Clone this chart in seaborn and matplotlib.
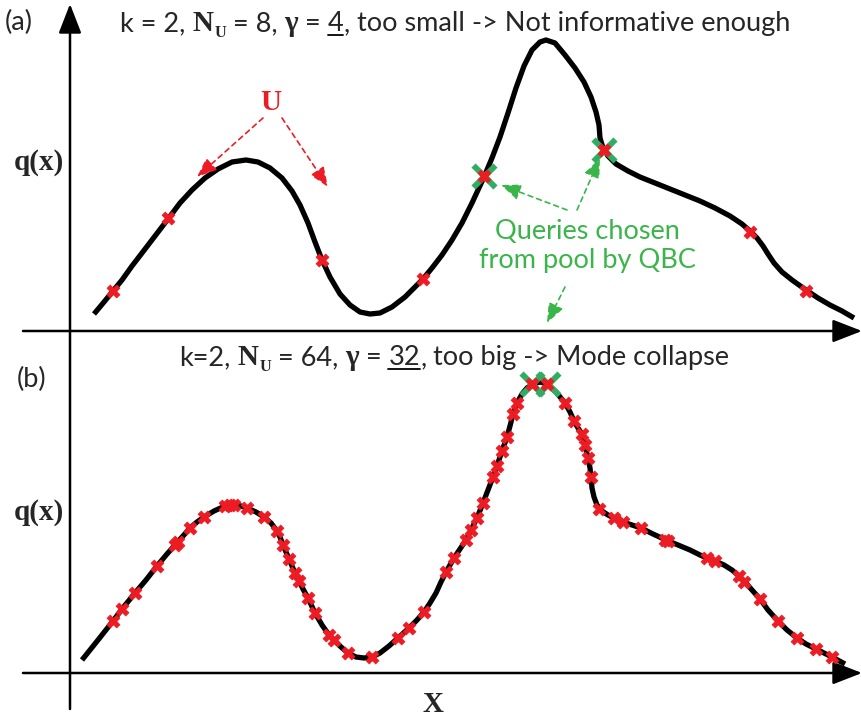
import numpy as np
import pandas as pd
import seaborn as sns
import matplotlib.pyplot as plt
from matplotlib import font_manager

# ---------------- data (pixel-space schematic) -------------
curve_a_x = [94, 104, 113, 122, 132, 142, 155, 168, 180, 192, 205, 218, 232, 246, 258, 270, 282, 292,
             300, 308, 315, 322, 330, 340, 350, 360, 370, 380, 392, 405, 415, 423, 432, 442, 452, 462,
             472, 484, 492, 500, 508, 516, 524, 532, 540, 546, 555, 565, 575, 584, 591, 596, 599, 600,
             603, 608, 616, 628, 640, 655, 670, 685, 700, 715, 730, 742, 750, 757, 763, 768, 774, 782,
             792, 806, 818, 830, 842, 854]
curve_a_y = [314, 302, 291, 280, 266, 253, 236, 219, 203, 190, 178, 169, 162, 160, 162, 168, 178, 191,
             205, 223, 242, 260, 277, 294, 305, 312, 314, 313, 307, 297, 287, 279, 268, 255, 240, 223,
             203, 177, 158, 137, 113, 88, 66, 50, 42, 40, 43, 55, 68, 82, 97, 112, 125, 138,
             148, 156, 164, 171, 177, 183, 189, 195, 201, 208, 216, 224, 231, 238, 246, 254, 263, 272,
             280, 290, 298, 305, 311, 318]
pool_a_x = [113, 168, 322, 423, 484, 604, 750, 806]
pool_a_y = [291, 218, 260, 279, 176, 150, 232, 291]
query_a_x = [484, 604]
query_a_y = [176, 150]

curve_b_x = [82, 98, 113, 122, 135, 146, 157, 167, 175, 183, 190, 197, 204, 214, 225, 234, 241, 247,
             256, 264, 271, 277, 280, 283, 289, 295, 299, 303, 308, 315, 322, 329, 334, 341, 348, 356,
             364, 372, 380, 389, 398, 409, 417, 424, 430, 436, 441, 446, 454, 460, 466, 471, 477, 483,
             488, 493, 497, 502, 507, 510, 513, 517, 522, 527, 533, 540, 547, 556, 565, 570, 574, 578,
             582, 585, 588, 590, 591, 592, 594, 597, 602, 608, 614, 623, 632, 641, 653, 666, 678, 690,
             700, 707, 715, 724, 732, 739, 745, 752, 760, 768, 778, 787, 797, 806, 816, 824, 832, 845]
curve_b_y = [660, 640, 621, 609, 593, 580, 566, 554, 545, 536, 528, 522, 517, 511, 506, 505, 506, 508,
             512, 517, 523, 531, 537, 545, 559, 573, 581, 589, 598, 613, 625, 635, 640, 647, 653, 657,
             658, 657, 653, 646, 638, 628, 620, 612, 603, 593, 582, 572, 558, 549, 540, 530, 518, 503,
             490, 477, 466, 451, 437, 426, 414, 403, 394, 388, 384, 382, 384, 392, 403, 412, 421, 428,
             434, 445, 458, 468, 477, 488, 497, 505, 511, 515, 518, 522, 525, 528, 534, 540, 545, 550,
             555, 558, 561, 565, 570, 576, 582, 590, 599, 610, 621, 630, 638, 644, 649, 653, 657, 664]
pool_b_x = [113, 122, 135, 157, 175, 178, 190, 204, 225, 230, 234, 247, 264, 277, 283, 289, 295, 299,
            308, 315, 329, 334, 348, 372, 398, 409, 424, 446, 454, 466, 471, 477, 483, 493, 497, 502,
            507, 513, 517, 532, 547, 565, 574, 582, 585, 588, 591, 599, 614, 623, 641, 665, 668, 707,
            715, 739, 744, 760, 778, 797, 816, 832]
pool_b_y = [621, 609, 593, 566, 545, 542, 528, 517, 506, 505, 505, 508, 517, 531, 545, 559, 573, 581,
            598, 613, 635, 640, 653, 657, 638, 628, 612, 572, 558, 540, 530, 518, 503, 477, 466, 451,
            437, 414, 403, 384, 384, 403, 421, 434, 445, 458, 477, 509, 518, 522, 528, 540, 541, 558,
            561, 576, 582, 599, 621, 638, 649, 657]
query_b_x = [532, 548]
query_b_y = [384, 384]

title_a = ["k = 2,", "N", "U", "= 8,", "\u03b3", "=", "4", ",", "too small -> Not informative enough"]
title_b = ["k=2,", "N", "U", "= 64,", "\u03b3", "=", "32", ",", "too big -> Mode collapse"]
query_label = "Queries chosen\nfrom pool by QBC"

# ---------------- style ----------------
RED = "#ED1C24"
GREEN = "#39B54A"
GREEN_X = "#2FAE62"

sns.set_theme(style="white")
names = {f.name for f in font_manager.fontManager.ttflist}
SANS = "Liberation Sans Narrow" if "Liberation Sans Narrow" in names else "Lato"
SERIF = "Liberation Serif"
plt.rcParams["font.family"] = [SANS, "DejaVu Sans"]
FS = 19.5

fig = plt.figure(figsize=(8.62, 7.18), dpi=100)
ax = fig.add_axes([0, 0, 1, 1])
ax.set_xlim(0, 862)
ax.set_ylim(718, 0)
ax.axis("off")

# axes arrows
ax_kw = dict(arrowstyle="-|>,head_length=0.9,head_width=0.35", color="black", lw=1.8,
             mutation_scale=20, shrinkA=0, shrinkB=0)
ax.annotate("", xy=(70, 4), xytext=(70, 709), arrowprops=ax_kw)
ax.annotate("", xy=(862, 331), xytext=(23, 331), arrowprops=ax_kw)
ax.annotate("", xy=(862, 673), xytext=(23, 673), arrowprops=ax_kw)

# curves
for cx, cy in [(curve_a_x, curve_a_y), (curve_b_x, curve_b_y)]:
    sns.lineplot(x=cx, y=cy, sort=False, estimator=None, color="black", lw=3.8,
                 ax=ax, zorder=2, solid_capstyle="butt", solid_joinstyle="round")

# queries (green x) and pool samples (red X)
for qx, qy in [(query_a_x, query_a_y), (query_b_x, query_b_y)]:
    sns.scatterplot(x=qx, y=qy, marker="x", s=250, color=GREEN_X, linewidth=4.2, ax=ax, zorder=3)
for px, py in [(pool_a_x, pool_a_y), (pool_b_x, pool_b_y)]:
    sns.scatterplot(x=px, y=py, marker="X", s=85, color=RED, linewidth=0.6, edgecolor=RED,
                    ax=ax, zorder=4)

# dashed annotation arrows
def dashed(x0, y0, x1, y1, color):
    ax.annotate("", xy=(x1, y1), xytext=(x0, y0),
                arrowprops=dict(arrowstyle="-|>,head_length=0.8,head_width=0.32", color=color,
                                lw=1.2, linestyle=(0, (3, 2.5)), mutation_scale=15,
                                shrinkA=0, shrinkB=0))

dashed(263, 118, 197, 177, RED)
dashed(282, 118, 328, 187, RED)
dashed(567, 210, 501, 185, GREEN)
dashed(577, 210, 600, 158, GREEN)
dashed(565, 287, 547, 323, GREEN)

ax.text(271, 102, "U", color=RED, fontsize=21, family=SERIF, weight="bold", ha="center", va="center")
ax.text(587, 246, query_label, color=GREEN, fontsize=FS, ha="center", va="center", linespacing=1.2)

# labels
ax.text(39, 162, "q(x)", fontsize=21, family=SERIF, weight="bold", ha="center", va="center")
ax.text(39, 512, "q(x)", fontsize=21, family=SERIF, weight="bold", ha="center", va="center")
ax.text(433, 704, "X", fontsize=21, family=SERIF, weight="bold", ha="center", va="center")
ax.text(5, 30, "(a)", fontsize=FS, ha="left", va="baseline")
ax.text(17, 387, "(b)", fontsize=FS, ha="left", va="baseline")

renderer = fig.canvas.get_renderer()
inv = ax.transData.inverted()


def rich(x, y, parts):
    reg = dict(fontsize=FS)
    bold = dict(fontsize=FS + 1.5, family=SERIF, weight="bold")
    sub = dict(fontsize=FS * 0.6, family=SERIF, weight="bold")
    styles = [(reg, 0, 0, False), (bold, 7, 0, False), (sub, 1, 6, False), (reg, 7, 0, False),
              (bold, 7, 0, False), (reg, 7, 0, False), (reg, 7, 0, True), (reg, 0, 0, False),
              (reg, 7, 0, False)]
    for s, (kw, gap, dy, ul) in zip(parts, styles):
        x += gap
        t = ax.text(x, y + dy, s, ha="left", va="baseline", **kw)
        bb = t.get_window_extent(renderer)
        x0 = inv.transform((bb.x0, bb.y0))[0]
        x1 = inv.transform((bb.x1, bb.y0))[0]
        if ul:
            ax.plot([x0, x1], [y + 3.5, y + 3.5], color="black", lw=1.3)
        x = x1


rich(120, 31, title_a)
rich(179, 365, title_b)

fig.savefig("out.png", dpi=100)
